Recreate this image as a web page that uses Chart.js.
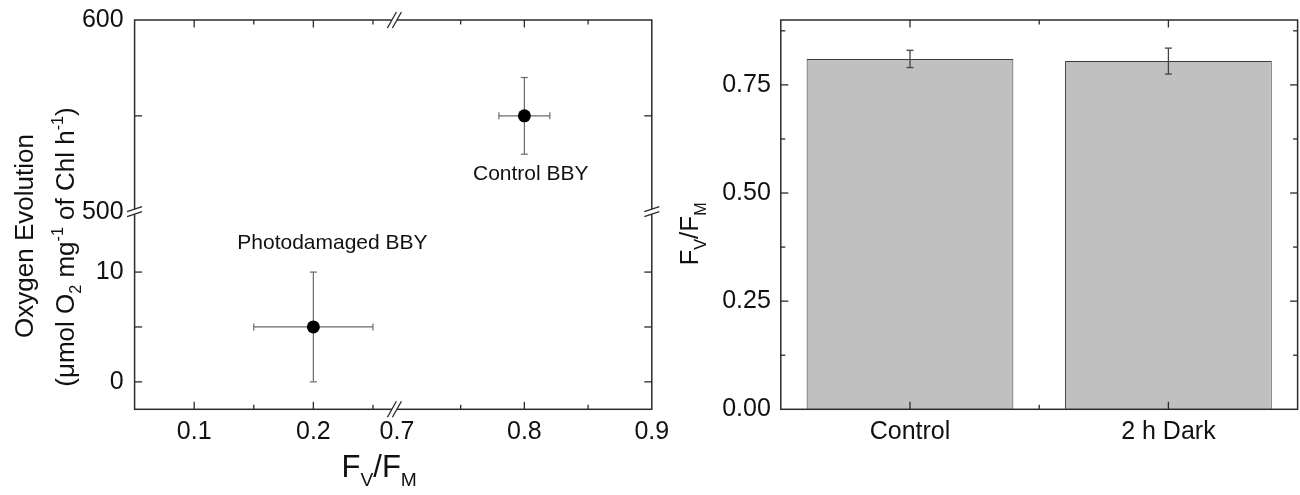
<!DOCTYPE html>
<html><head><meta charset="utf-8">
<script src="https://cdn.jsdelivr.net/npm/chart.js@4.4.1/dist/chart.umd.min.js"></script>
<style>
html,body{margin:0;padding:0;background:#fff;}
#wrap{position:relative;width:1300px;height:495px;overflow:hidden;background:#fff;}
canvas{position:absolute;top:0;}
#c1{left:0;} #c2{left:660px;}
</style></head><body>
<div id="wrap"><canvas id="c1" width="680" height="495"></canvas><canvas id="c2" width="640" height="495"></canvas></div>
<script>
// ---------- data ----------
const seriesNames = ['Photodamaged BBY', 'Control BBY'];
const fvfmValues = [0.20, 0.80];
const fvfmErrors = [0.05, 0.02];
const o2Values = [5, 550];
const o2Errors = [5, 20];
const labelAnchorsX = [0.216, 0.805];
const labelAnchorsY = [12.6, 519.5];

const barCategories = ['Control', '2 h Dark'];
const barValues = [0.81, 0.805];
const barErrors = [0.02, 0.03];

const xTicksLow = [0.1, 0.2];
const xTicksHigh = [0.7, 0.8, 0.9];
const yTicksUpper = [500, 600];
const yTicksLower = [0, 10];
const barYTicks = [0, 0.25, 0.5, 0.75];
const xMinorLow = [0.15, 0.25];
const xMinorHigh = [0.75, 0.85];
const yExtraUpper = [550];
const yExtraLower = [5];
const barYMinor = [0.125, 0.375, 0.625, 0.875];

// ---------- helpers ----------
const FONT = '"Liberation Sans", Arial, Helvetica, sans-serif';
const AXIS = '#2b2b2b';

function line(ctx, x1, y1, x2, y2) { ctx.beginPath(); ctx.moveTo(x1, y1); ctx.lineTo(x2, y2); ctx.stroke(); }

function drawRich(ctx, parts, cx, cy, size, rotate) {
  ctx.save();
  ctx.translate(cx, cy);
  if (rotate) ctx.rotate(-Math.PI / 2);
  ctx.textBaseline = 'alphabetic';
  ctx.textAlign = 'left';
  ctx.fillStyle = '#111';
  let total = 0;
  const m = parts.map(p => {
    const s = p.k ? size * 0.62 : size;
    ctx.font = s + 'px ' + FONT;
    const w = ctx.measureText(p.t).width;
    total += w;
    return { p, s, w };
  });
  let x = -total / 2;
  m.forEach(({ p, s, w }) => {
    ctx.font = s + 'px ' + FONT;
    const dy = p.k === 'sub' ? size * 0.3 : (p.k === 'sup' ? -size * 0.42 : 0);
    ctx.fillText(p.t, x, dy);
    x += w;
  });
  ctx.restore();
}

function frame(ctx, a) {
  ctx.save();
  ctx.strokeStyle = AXIS; ctx.lineWidth = 1.5;
  ctx.strokeRect(a.left, a.top, a.right - a.left, a.bottom - a.top);
  ctx.restore();
}

function xTicks(ctx, scale, vals, len, a) {
  vals.forEach(v => {
    const p = scale.getPixelForValue(v);
    line(ctx, p, a.bottom, p, a.bottom - len);
    line(ctx, p, a.top, p, a.top + len);
  });
}
function yTicks(ctx, scale, vals, len, a) {
  vals.forEach(v => {
    const p = scale.getPixelForValue(v);
    line(ctx, a.left, p, a.left + len, p);
    line(ctx, a.right, p, a.right - len, p);
  });
}

function breakH(ctx, x, y) {
  ctx.save();
  ctx.fillStyle = '#fff';
  ctx.fillRect(x - 2.5, y - 2, 5, 4);
  ctx.strokeStyle = AXIS; ctx.lineWidth = 1.3;
  [-2.5, 2.5].forEach(d => line(ctx, x + d - 4.5, y + 8, x + d + 4.5, y - 8));
  ctx.restore();
}
function breakV(ctx, x, y) {
  ctx.save();
  ctx.fillStyle = '#fff';
  ctx.fillRect(x - 2, y - 2.5, 4, 5);
  ctx.strokeStyle = AXIS; ctx.lineWidth = 1.3;
  [-2.5, 2.5].forEach(d => line(ctx, x - 7.5, y + d + 2.5, x + 7.5, y + d - 2.5));
  ctx.restore();
}

const tickFont = { family: FONT, size: 25 };
function fixFit(dim, val) {
  return sc => {
    sc[dim] = val;
    sc.paddingTop = 0; sc.paddingBottom = 0; sc.paddingLeft = 0; sc.paddingRight = 0;
  };
}

// ---------- left chart ----------
const leftDecor = {
  id: 'leftDecor',
  beforeDatasetsDraw(chart) {
    const ctx = chart.ctx;
    ctx.save();
    ctx.strokeStyle = '#6a6a6a'; ctx.lineWidth = 1.2;
    seriesNames.forEach((n, i) => {
      const meta = chart.getDatasetMeta(i);
      const xs = chart.scales[meta.xAxisID], ys = chart.scales[meta.yAxisID];
      const px = xs.getPixelForValue(fvfmValues[i]), py = ys.getPixelForValue(o2Values[i]);
      const x1 = xs.getPixelForValue(fvfmValues[i] - fvfmErrors[i]);
      const x2 = xs.getPixelForValue(fvfmValues[i] + fvfmErrors[i]);
      const y1 = ys.getPixelForValue(o2Values[i] - o2Errors[i]);
      const y2 = ys.getPixelForValue(o2Values[i] + o2Errors[i]);
      line(ctx, x1, py, x2, py);
      line(ctx, x1, py - 3.5, x1, py + 3.5);
      line(ctx, x2, py - 3.5, x2, py + 3.5);
      line(ctx, px, y1, px, y2);
      line(ctx, px - 3.5, y1, px + 3.5, y1);
      line(ctx, px - 3.5, y2, px + 3.5, y2);
    });
    ctx.restore();
  },
  afterDatasetsDraw(chart) {
    const ctx = chart.ctx, a = chart.chartArea, s = chart.scales;
    frame(ctx, a);
    ctx.save();
    ctx.strokeStyle = AXIS; ctx.lineWidth = 1.3;
    xTicks(ctx, s.xa, xTicksLow, 7.5, a);
    xTicks(ctx, s.xa, xMinorLow, 4.5, a);
    xTicks(ctx, s.xb, xTicksHigh.filter(v => v > s.xb.min + 0.01 && v < s.xb.max - 0.01), 7.5, a);
    xTicks(ctx, s.xb, xMinorHigh, 4.5, a);
    yTicks(ctx, s.ya, yExtraUpper, 7.5, a);
    yTicks(ctx, s.yb, yTicksLower, 7.5, a);
    yTicks(ctx, s.yb, yExtraLower, 7.5, a);
    ctx.restore();
    const bx = s.xb.left, by = s.ya.bottom;
    breakH(ctx, bx, a.bottom); breakH(ctx, bx, a.top);
    breakV(ctx, a.left, by); breakV(ctx, a.right, by);
    ctx.save();
    ctx.fillStyle = '#111';
    ctx.font = '21px ' + FONT;
    ctx.textAlign = 'center'; ctx.textBaseline = 'middle';
    seriesNames.forEach((n, i) => {
      const meta = chart.getDatasetMeta(i);
      const xs = chart.scales[meta.xAxisID], ys = chart.scales[meta.yAxisID];
      ctx.fillText(n, xs.getPixelForValue(labelAnchorsX[i]), ys.getPixelForValue(labelAnchorsY[i]));
    });
    ctx.restore();
    drawRich(ctx, [{ t: 'Oxygen Evolution' }], 32.5, 236, 26, true);
    drawRich(ctx, [{ t: '(\u03BCmol O' }, { t: '2', k: 'sub' }, { t: ' mg' }, { t: '-1', k: 'sup' },
      { t: ' of Chl h' }, { t: '-1', k: 'sup' }, { t: ')' }], 73.5, 247, 26, true);
    drawRich(ctx, [{ t: 'F' }, { t: 'V', k: 'sub' }, { t: '/F' }, { t: 'M', k: 'sub' }],
      (a.left + a.right) / 2 - 14, 477, 31, false);
  }
};

const scatterDatasets = seriesNames.map((name, i) => ({
  label: name,
  data: [{ x: fvfmValues[i], y: o2Values[i] }],
  xAxisID: fvfmValues[i] < 0.5 ? 'xa' : 'xb',
  yAxisID: o2Values[i] < 100 ? 'yb' : 'ya',
  pointRadius: 6.5,
  pointBackgroundColor: '#000',
  pointBorderColor: '#000',
  pointBorderWidth: 0,
  showLine: false
}));

function axisBase(extra) {
  return Object.assign({
    type: 'linear',
    grid: { display: false, drawTicks: false },
    border: { display: false },
  }, extra);
}

new Chart(document.getElementById('c1'), {
  type: 'scatter',
  data: { datasets: scatterDatasets },
  options: {
    responsive: false, animation: false,
    layout: { padding: { left: 0, top: 20, right: 28.2, bottom: 0 } },
    plugins: { legend: { display: false }, tooltip: { enabled: false } },
    scales: {
      xa: axisBase({
        position: 'bottom', stack: 'x', stackWeight: 260, min: 0.05, max: 0.268,
        afterBuildTicks: sc => { sc.ticks = xTicksLow.map(v => ({ value: v })); },
        afterFit: fixFit('height', 85.7),
        ticks: { color: '#111', font: tickFont, padding: 8, autoSkip: false, maxRotation: 0, callback: v => Number(v).toFixed(1) }
      }),
      xb: axisBase({
        position: 'bottom', stack: 'x', stackWeight: 257.6, min: 0.698, max: 0.9,
        afterBuildTicks: sc => { sc.ticks = xTicksHigh.map(v => ({ value: v })); },
        afterFit: fixFit('height', 85.7),
        ticks: { color: '#111', font: tickFont, padding: 8, autoSkip: false, maxRotation: 0, callback: v => Number(v).toFixed(1) }
      }),
      ya: axisBase({
        position: 'left', stack: 'y', stackWeight: 191.7, weight: 1, min: 500, max: 600,
        afterBuildTicks: sc => { sc.ticks = yTicksUpper.map(v => ({ value: v })); },
        afterFit: fixFit('width', 134.6),
        ticks: { color: '#111', font: tickFont, padding: 11, autoSkip: false, callback: v => String(v) }
      }),
      yb: axisBase({
        position: 'left', stack: 'y', stackWeight: 197.6, weight: 0, min: -2.5, max: 15.5,
        afterBuildTicks: sc => { sc.ticks = yTicksLower.map(v => ({ value: v })); },
        afterFit: fixFit('width', 134.6),
        ticks: { color: '#111', font: tickFont, padding: 11, autoSkip: false, callback: v => String(v) }
      })
    }
  },
  plugins: [leftDecor]
});

// ---------- right chart ----------
const rightDecor = {
  id: 'rightDecor',
  afterDatasetsDraw(chart) {
    const ctx = chart.ctx, a = chart.chartArea, xs = chart.scales.x, ys = chart.scales.y;
    ctx.save();
    ctx.strokeStyle = '#444'; ctx.lineWidth = 1.3;
    barValues.forEach((v, i) => {
      const px = xs.getPixelForValue(i);
      const y1 = ys.getPixelForValue(v - barErrors[i]);
      const y2 = ys.getPixelForValue(v + barErrors[i]);
      line(ctx, px, y1, px, y2);
      line(ctx, px - 3.5, y1, px + 3.5, y1);
      line(ctx, px - 3.5, y2, px + 3.5, y2);
    });
    ctx.restore();
    frame(ctx, a);
    ctx.save();
    ctx.strokeStyle = AXIS; ctx.lineWidth = 1.3;
    yTicks(ctx, ys, barYTicks.filter(v => v > 0), 7.5, a);
    yTicks(ctx, ys, barYMinor, 4.5, a);
    xTicks(ctx, xs, barCategories.map((c, i) => i), 7.5, a);
    xTicks(ctx, xs, barCategories.slice(1).map((c, i) => i + 0.5), 4.5, a);
    ctx.restore();
    drawRich(ctx, [{ t: 'F' }, { t: 'V', k: 'sub' }, { t: '/F' }, { t: 'M', k: 'sub' }], 38, 234, 26, true);
  }
};

new Chart(document.getElementById('c2'), {
  type: 'bar',
  data: {
    labels: barCategories,
    datasets: [{
      data: barValues,
      backgroundColor: '#c0c0c0',
      borderColor: '#3a3a3a',
      borderWidth: 1,
      barPercentage: 0.8,
      categoryPercentage: 1
    }]
  },
  options: {
    responsive: false, animation: false,
    layout: { padding: { left: 0, top: 20, right: 2.4, bottom: 0 } },
    plugins: { legend: { display: false }, tooltip: { enabled: false } },
    scales: {
      x: {
        grid: { display: false, drawTicks: false }, border: { display: false },
        afterFit: fixFit('height', 85.7),
        ticks: { color: '#111', font: tickFont, padding: 8, maxRotation: 0 }
      },
      y: {
        type: 'linear', min: 0, max: 0.9,
        grid: { display: false, drawTicks: false }, border: { display: false },
        afterBuildTicks: sc => { sc.ticks = barYTicks.map(v => ({ value: v })); },
        afterFit: fixFit('width', 120.8),
        ticks: { color: '#111', font: tickFont, padding: 10, autoSkip: false, callback: v => Number(v).toFixed(2) }
      }
    }
  },
  plugins: [rightDecor]
});
</script>
</body></html>
